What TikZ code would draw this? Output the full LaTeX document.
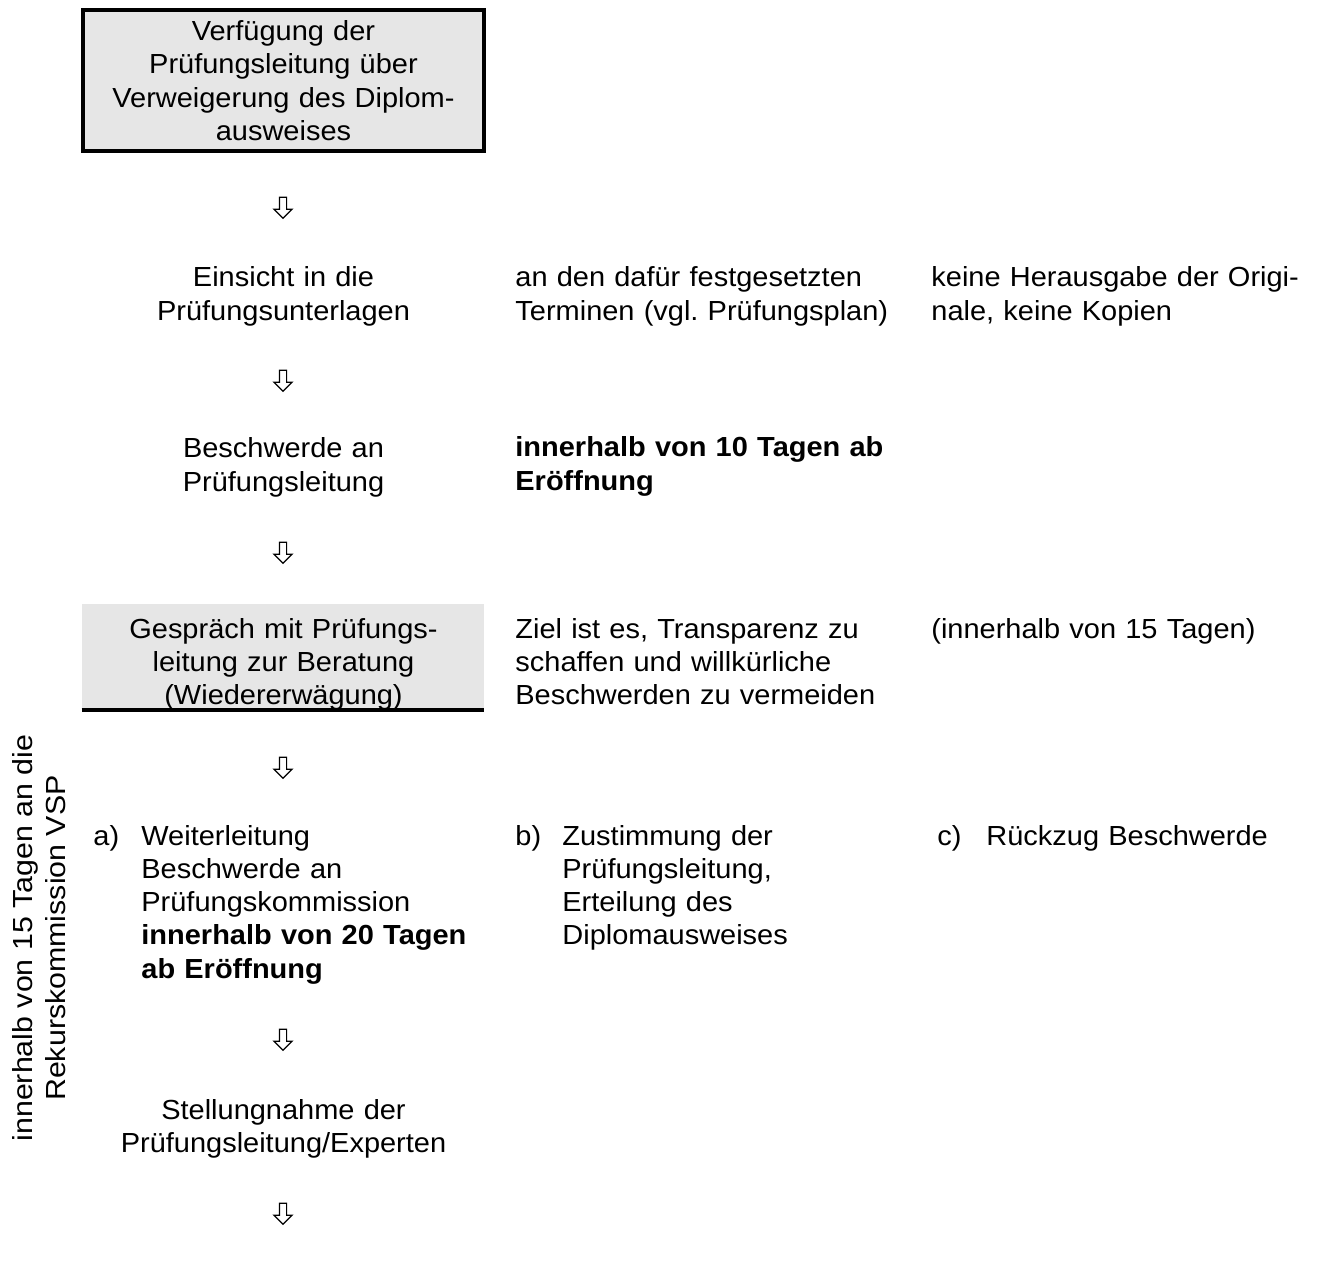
\documentclass[tikz,border=0pt]{standalone}
\usepackage{fontspec}
\usepackage{xcolor}
\setmainfont[FakeStretch=1.05]{Liberation Sans}
\newfontfamily\sidefont[FakeStretch=1.1]{Liberation Sans}
\usetikzlibrary{calc,shapes.arrows}
\definecolor{boxgrayc}{HTML}{E6E6E6}
\colorlet{boxgray}{boxgrayc}
\newcommand{\bodyfont}{% text size of all steps
\fontsize{13.8pt}{16.65pt}\selectfont\frenchspacing}
\tikzstyle{stepcenter} =[
    anchor=base,
    inner sep=0pt,
    text width=200pt,
    align=center,
    font=\bodyfont
    ]
\tikzstyle{stepleft} =[
    anchor=base west,
    inner sep=0pt,
    text width=200pt,
    align=left,
    font=\bodyfont
    ]
\tikzstyle{downarrow} =[
    single arrow,
    draw=black,
    line width=0.6pt,
    rotate=-90,
    minimum height=10.5pt,
    minimum width=8.5pt,
    single arrow head extend=2.75pt,
    inner xsep=0pt,
    inner ysep=1.5pt
    ]
\tikzstyle{titlebox} = [
    draw=black,
    fill=boxgray,
    line width=2pt,
    rectangle,
    minimum width=200.5pt,
    minimum height=70.5pt,
    inner sep=0pt,
    text width=200pt,
    align=center,
    font=\bodyfont
    ]
\tikzstyle{talkbox} = [
    fill=boxgray,
    rectangle,
    minimum width=201pt,
    minimum height=53pt,
    inner sep=0pt
    ]

\begin{document}
\begin{tikzpicture}[x=0.5pt,y=-0.5pt]
\useasboundingbox (0,0) rectangle (1322,1261);
% main column
\node[titlebox] (verfuegung) at (283.5,80.5) {Verfügung der\\Prüfungsleitung über\\Verweigerung des Diplom-\\ausweises};
\node[downarrow] (pfeila) at (283,206) {};
\node[stepcenter] (einsicht) at (283.5,287) {Einsicht in die\\Prüfungsunterlagen};
\node[downarrow] (pfeilb) at (283,379) {};
\node[stepcenter] (beschwerde) at (283.5,458) {Beschwerde an\\Prüfungsleitung};
\node[downarrow] (pfeilc) at (283,551) {};
\node[talkbox] (gespraechbox) at (283,657) {};
\draw[line width=2pt] (gespraechbox.south west) -- (gespraechbox.south east);
\node[stepcenter] (gespraech) at (283.5,638) {Gespräch mit Prüfungs-\\leitung zur Beratung\\(Wiedererwägung)};
\node[downarrow] (pfeild) at (283,766) {};
\node[stepleft, text width=30pt] (labela) at (93,845) {a)};
\node[stepleft] (weiterleitung) at (141,845) {Weiterleitung\\Beschwerde an\\Prüfungskommission\\\textbf{innerhalb von 20 Tagen}\\\textbf{ab Eröffnung}};
\node[downarrow] (pfeile) at (283,1038) {};
\node[stepcenter] (stellungnahme) at (283.5,1119) {Stellungnahme der\\Prüfungsleitung/Experten};
\node[downarrow] (pfeilf) at (283,1212) {};
% second column
\node[stepleft] (termine) at (515,287) {an den dafür festgesetzten\\Terminen (vgl. Prüfungsplan)};
\node[stepleft, font=\bodyfont\bfseries] (frist) at (515,457) {innerhalb von 10 Tagen ab\\Eröffnung};
\node[stepleft] (ziel) at (515,638) {Ziel ist es, Transparenz zu\\schaffen und willkürliche\\Beschwerden zu vermeiden};
\node[stepleft, text width=30pt] (labelb) at (515,845) {b)};
\node[stepleft] (zustimmung) at (562,845) {Zustimmung der\\Prüfungsleitung,\\Erteilung des\\Diplomausweises};
% third column
\node[stepleft] (originale) at (931,287) {keine Herausgabe der Origi-\\nale, keine Kopien};
\node[stepleft] (fristrekurs) at (931,638) {(innerhalb von 15 Tagen)};
\node[stepleft, text width=30pt] (labelc) at (937,845) {c)};
\node[stepleft] (rueckzug) at (986,845) {Rückzug Beschwerde};
% side note
\node[font=\sidefont\fontsize{13.8pt}{16.65pt}\selectfont, align=center, rotate=90, inner sep=0pt] (rekurs) at (39,938) {innerhalb von 15 Tagen an die\\Rekurskommission VSP};
\end{tikzpicture}
\end{document}
